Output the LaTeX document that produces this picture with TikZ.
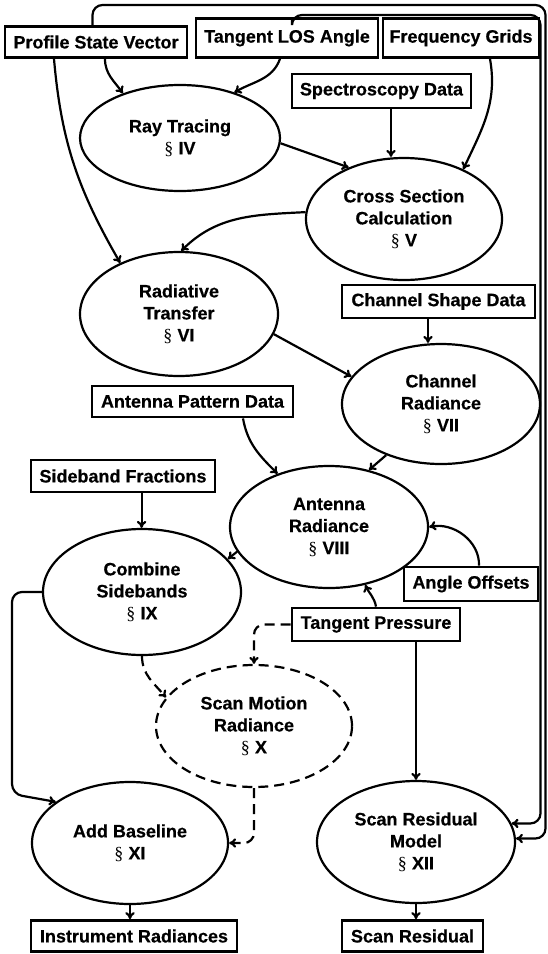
\documentclass[tikz,border=0pt]{standalone}
\usepackage{fontspec}
\setmainfont{Liberation Sans}[BoldFeatures={FakeBold=0.5}]
\newfontfamily\secfont{Liberation Serif}
\usetikzlibrary{shapes.geometric,arrows.meta,calc}
\newcommand{\sS}{{\secfont\mdseries §}}
\begin{document}
\begin{tikzpicture}[x=1pt,y=-1pt,
  every node/.style={font=\fontsize{18}{22}\selectfont\bfseries, align=center},
  box/.style={draw, line width=2.8pt, inner sep=0pt},
  ell/.style={ellipse, draw, line width=2.2pt, inner sep=0pt},
  arr/.style={line width=2.2pt, -{To[length=7pt,width=9.5pt]}},
  dsh/.style={dash pattern=on 10pt off 6pt}]
\useasboundingbox (0,0) rectangle (548,954);

% boxes
\node[box, minimum width=182pt, minimum height=31pt] (psv) at (96,42) {Profile State Vector};
\node[box, minimum width=182pt, minimum height=39pt] (los) at (287,38) {Tangent LOS Angle};
\node[box, minimum width=156pt, minimum height=39pt] (fg) at (461,38) {Frequency Grids};
\node[box, minimum width=179pt, minimum height=34pt] (spec) at (381.5,91) {Spectroscopy Data};
\node[box, minimum width=193pt, minimum height=33pt] (csd) at (438.5,301.5) {Channel Shape Data};
\node[box, minimum width=201pt, minimum height=31pt] (apd) at (192.5,401.5) {Antenna Pattern Data};
\node[box, minimum width=184pt, minimum height=32pt] (sbf) at (123,476) {Sideband Fractions};
\node[box, minimum width=134pt, minimum height=34pt] (ao) at (471,584) {Angle Offsets};
\node[box, minimum width=168pt, minimum height=33pt] (tp) at (376,624.5) {Tangent Pressure};
\node[box, minimum width=206pt, minimum height=31pt] (ir) at (134,936) {Instrument Radiances};
\node[box, minimum width=141pt, minimum height=31pt] (sr) at (412.5,936) {Scan Residual};

% ellipses
\node[ell, minimum width=200pt, minimum height=106pt] (rt) at (180,138) {Ray Tracing\\\sS\ IV};
\node[ell, minimum width=196pt, minimum height=122pt] (cs) at (404,219) {Cross Section\\Calculation\\\sS\ V};
\node[ell, minimum width=198pt, minimum height=124pt] (rtr) at (179,314) {Radiative\\Transfer\\\sS\ VI};
\node[ell, minimum width=198pt, minimum height=120pt] (cr) at (441,404) {Channel\\Radiance\\\sS\ VII};
\node[ell, minimum width=198pt, minimum height=122pt] (ar) at (329,527) {Antenna\\Radiance\\\sS\ VIII};
\node[ell, minimum width=198pt, minimum height=126pt] (cmb) at (142,592) {Combine\\Sidebands\\\sS\ IX};
\node[ell, dsh, minimum width=196pt, minimum height=122pt] (smr) at (254,726) {Scan Motion\\Radiance\\\sS\ X};
\node[ell, minimum width=196pt, minimum height=122pt] (ab) at (130,843) {Add Baseline\\\sS\ XI};
\node[ell, minimum width=198pt, minimum height=122pt] (srm) at (416,842) {Scan Residual\\Model\\\sS\ XII};

% connectors
\draw[arr] ([xshift=9pt]psv.south) to[out=-90,in=125] (rt.142);
\draw[arr] ([xshift=-42pt]psv.south) to[out=-85,in=120] (rtr.139);
\draw[arr] ([xshift=-7pt]los.south) to[out=-110,in=30] (rt.40);
\draw[arr] ([xshift=29pt]fg.south) to[out=-80,in=65] (cs.40);
\draw[arr] ([xshift=9.5pt]spec.south) -- ([xshift=9.5pt]spec.south |- cs.north);
\draw[arr] (rt.-3) -- (cs.137);
\draw[arr] (cs.176) to[out=183,in=45] (rtr.88);
\draw[arr] (rtr.-12) -- (cr.163);
\draw[arr] ([xshift=-10.5pt]csd.south) -- ([xshift=-10.5pt]csd.south |- cr.north);
\draw[arr] ([xshift=50.5pt]apd.south) to[out=-80,in=135] (ar.134);
\draw[arr] (cr.223) -- (ar.55);
\draw[arr] ([xshift=18.6pt]sbf.south) -- ([xshift=18.6pt]sbf.south |- cmb.north);
\draw[arr] (ar.195) -- (cmb.21);
\draw[arr] ([xshift=8pt]ao.north) to[out=88,in=12] (ar.0);
\draw[arr] (tp.north) to[out=100,in=-65] (ar.-58);
\draw[arr] ([xshift=40pt]tp.south) -- ([xshift=40pt]tp.south |- srm.north);
\draw[arr, dsh, rounded corners=10pt] (tp.west) -| (smr.north);
\draw[arr, dsh] (cmb.south) to[out=-90,in=130] (smr.162);
\draw[arr, dsh, rounded corners=10pt] (smr.south) |- (ab.east);
\coordinate (lc1) at (12,592);
\coordinate (lc2) at (12,794);
\draw[arr, rounded corners=10pt] (cmb.west) -- (lc1) -- (lc2) -- (ab.151);
\draw[arr] (ab.south) -- (ab.south |- ir.north);
\draw[arr] (srm.south) -- (srm.south |- sr.north);
\coordinate (o1) at (545.5,5);
\coordinate (i1) at (540.5,15);
\draw[arr, rounded corners=10pt] ([xshift=-3.5pt]psv.north) |- (o1) -- (o1 |- srm.2) -- (srm.2);
\draw[arr, rounded corners=10pt] ([xshift=5pt]los.north) |- (i1) -- (i1 |- srm.11) -- (srm.11);
\end{tikzpicture}
\end{document}
